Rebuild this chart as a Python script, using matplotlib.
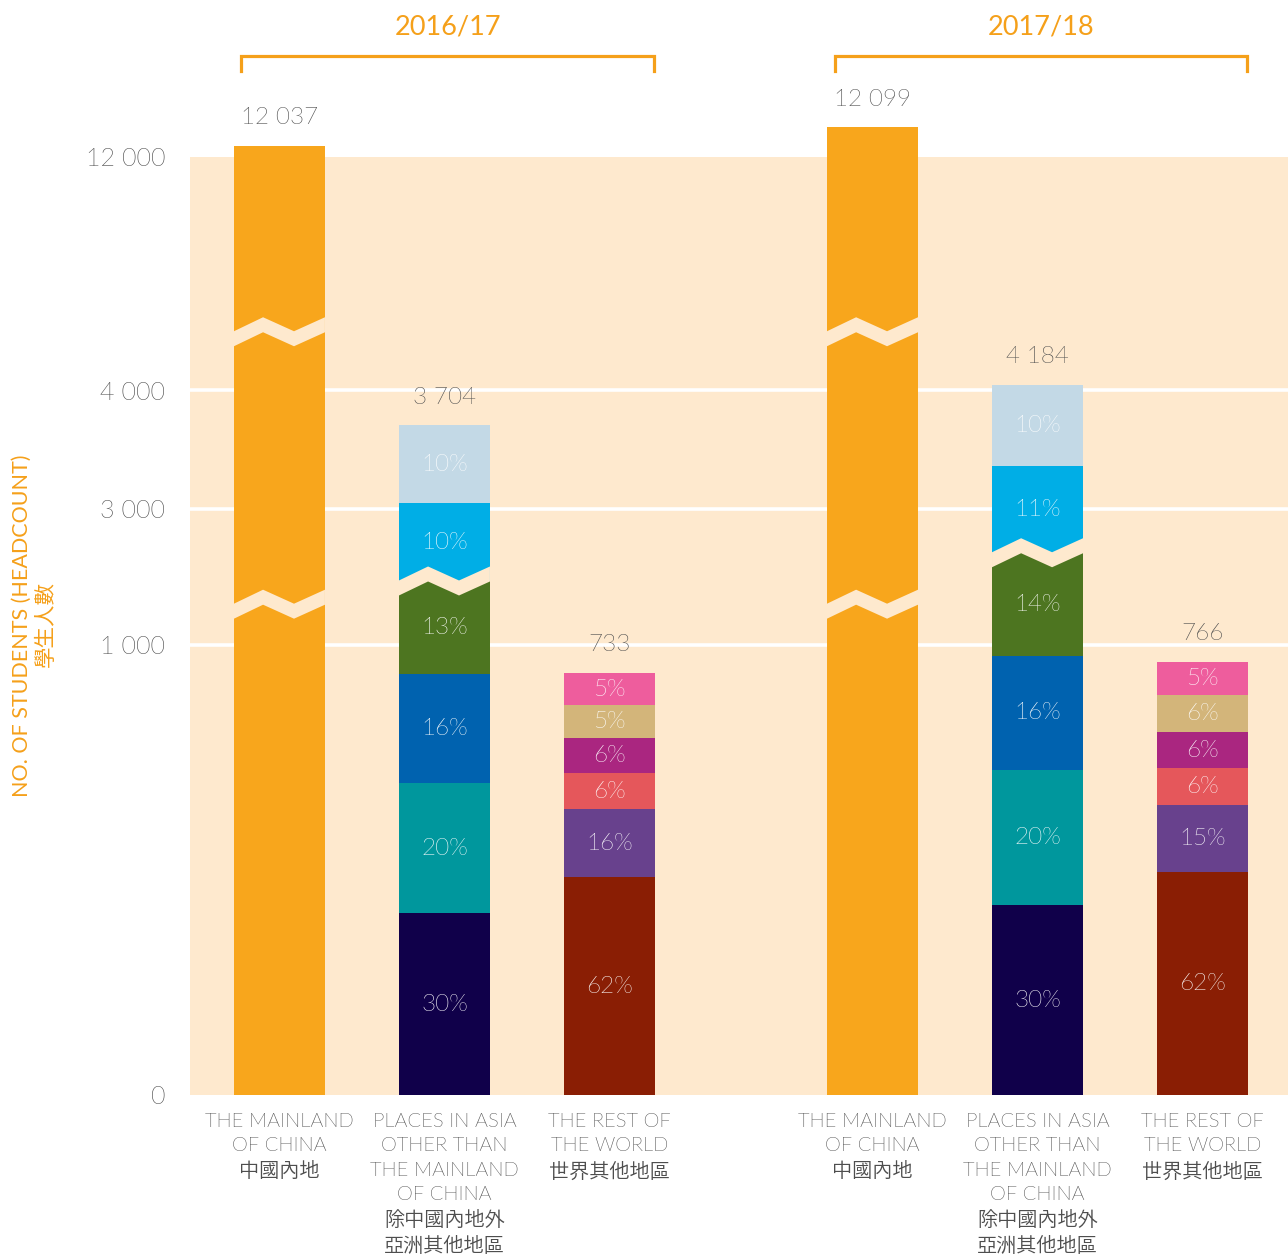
import os
import dataclasses
import numpy as np
import matplotlib
matplotlib.use("Agg")
import matplotlib.pyplot as plt
from matplotlib import font_manager as fm
from matplotlib.patches import Polygon
from matplotlib.transforms import IdentityTransform, blended_transform_factory

# ---------------- data ----------------
years = ["2016/17", "2017/18"]
mainland_totals = [12037, 12099]
asia_totals = [3704, 4184]
world_totals = [733, 766]
asia_pct = [[30, 20, 16, 13, 10, 10],
            [30, 20, 16, 14, 11, 10]]
world_pct = [[62, 16, 6, 6, 5, 5],
             [62, 15, 6, 6, 6, 5]]
y_ticks = [0, 1000, 3000, 4000, 12000]
category_labels = [
    "THE MAINLAND\nOF CHINA\n中國內地",
    "PLACES IN ASIA\nOTHER THAN\nTHE MAINLAND\nOF CHINA\n除中國內地外\n亞洲其他地區",
    "THE REST OF\nTHE WORLD\n世界其他地區",
]
y_label_en = "NO. OF STUDENTS (HEADCOUNT)"
y_label_zh = "學生人數"

# ---------------- style ----------------
BG = "#FEE9CE"
ORANGE = "#F8A61C"
TITLE_ORANGE = "#F5A01A"
GRAY = "#4E4E4E"
ASIA_COLORS = ["#10004A", "#00979D", "#0062AF", "#4D7520", "#00AEE6", "#C3D9E6"]
WORLD_COLORS = ["#8A1E04", "#68418D", "#E5575B", "#AA2680", "#D3B57A", "#EE5D9D"]


def find_light(match, alias, words):
    try:
        for w in words:
            for f in fm.fontManager.ttflist:
                base = os.path.basename(f.fname).lower()
                if match(f, base) and w in base and "italic" not in base:
                    if w == "light" and "demilight" in base and "demilight" in words:
                        continue
                    fm.fontManager.ttflist.append(
                        dataclasses.replace(f, name=alias, weight=400, style="normal"))
                    return alias
    except Exception:
        pass
    return None


LATIN = find_light(lambda f, b: "lato" in b, "Lato Light Local", ("light",)) or "Lato"
CJK = find_light(lambda f, b: "cjk" in b and ("tc" in b or f.name.endswith("TC")),
                 "CJK TC Light Local", ("demilight", "light")) or "Noto Sans CJK TC"
try:
    fm.FontManager._findfont_cached.cache_clear()
except Exception:
    pass
FONT = [LATIN, CJK, "Noto Sans CJK TC", "DejaVu Sans"]
FONT_REG = ["Lato", "Noto Sans CJK TC", "DejaVu Sans"]
plt.rcParams["font.family"] = FONT

# broken-axis display scale (value -> display units)
SCALE_VALUES = [0, 750, 1000, 3000, 4000, 12000, 12100]
SCALE_UNITS = [0, 432, 450, 586, 705, 938, 968]
SEG_PAD = 5          # minimum visual padding per stacked segment
BREAK_VALUES = [1600, 6000]
GROUP_GAP = 3.594
BAR_W = 0.5515


def fwd(v):
    return np.interp(v, SCALE_VALUES, SCALE_UNITS)


def inv(u):
    return np.interp(u, SCALE_UNITS, SCALE_VALUES)


fig = plt.figure(figsize=(12.88, 12.60), dpi=100)
ax = fig.add_axes([190 / 1288, 1 - 1095 / 1260, 1098 / 1288, 938 / 1260])
ax.set_facecolor(BG)
ax.set_yscale("function", functions=(fwd, inv))
ax.set_ylim(0, 12000)
ax.set_xlim(-0.542, 6.112)
ax.set_autoscale_on(False)
for s in ax.spines.values():
    s.set_visible(False)

ax.set_yticks(y_ticks, [f"{v:,}".replace(",", " ") for v in y_ticks])
ax.yaxis.set_minor_locator(matplotlib.ticker.NullLocator())
ax.tick_params(axis="y", length=0, pad=18, labelsize=18, labelcolor=GRAY)
ax.yaxis.grid(True, color="white", linewidth=2.6)
ax.set_axisbelow(True)
gl = ax.get_ygridlines()
gl[0].set_visible(False)
gl[-1].set_visible(False)

xs_all = []
labels_all = []


def value_label(x, total):
    ax.annotate(f"{total:,}".replace(",", " "), (x, total), xytext=(0, 28),
                textcoords="offset pixels", ha="center", va="center",
                fontsize=17.5, color=GRAY, annotation_clip=False)


def stacked(x, total, pcts, colors):
    w = np.array(pcts, dtype=float) + SEG_PAD
    cum = np.concatenate([[0], np.cumsum(w)]) / w.sum()
    ut = fwd(total)
    bounds = inv(ut * cum)
    bounds[-1] = total
    for i, (p, c) in enumerate(zip(pcts, colors)):
        ax.bar(x, bounds[i + 1] - bounds[i], bottom=bounds[i], width=BAR_W,
               color=c, zorder=3, clip_on=False)
        ymid = inv(ut * (cum[i] + cum[i + 1]) / 2)
        ax.text(x, ymid, f"{p}%", ha="center", va="center", fontsize=17.5,
                color="white", alpha=0.95, zorder=6)
    return bounds


def add_break(x, v):
    x0, y0 = ax.transData.transform((x - BAR_W / 2, v))
    x1, _ = ax.transData.transform((x + BAR_W / 2, v))
    px = x0 + (x1 - x0) * np.array([0, 0.32, 0.66, 1.0])
    mid = y0 + np.array([-7, 7, -7, 7])
    top = mid + 7.5
    bot = mid - 7.5
    verts = list(zip(px, top)) + list(zip(px[::-1], bot[::-1]))
    poly = Polygon(verts, closed=True, transform=IdentityTransform(),
                   facecolor=BG, edgecolor="none", zorder=5, clip_on=False)
    ax.add_artist(poly)


btrans = blended_transform_factory(ax.transData, ax.transAxes)

for g, yr in enumerate(years):
    base = g * GROUP_GAP
    # mainland
    xm = base
    ax.bar(xm, mainland_totals[g], width=BAR_W, color=ORANGE, zorder=3, clip_on=False)
    value_label(xm, mainland_totals[g])
    for bv in BREAK_VALUES:
        add_break(xm, bv)
    # asia
    xa = base + 1
    b = stacked(xa, asia_totals[g], asia_pct[g], ASIA_COLORS)
    value_label(xa, asia_totals[g])
    add_break(xa, b[4])
    # world
    xw = base + 2
    stacked(xw, world_totals[g], world_pct[g], WORLD_COLORS)
    value_label(xw, world_totals[g])

    xs_all += [xm, xa, xw]
    labels_all += category_labels

    # year title and bracket
    cx = base + 1.02
    ax.text(cx, (1095 - 27) / 938, yr, transform=btrans, ha="center", va="center",
            fontsize=19.5, color=TITLE_ORANGE, family=FONT_REG)
    yb = (1095 - 56) / 938
    yb2 = (1095 - 71) / 938
    ax.plot([cx - 1.25, cx - 1.25, cx + 1.25, cx + 1.25], [yb2, yb, yb, yb2],
            transform=btrans, color=TITLE_ORANGE, linewidth=2.3, clip_on=False,
            solid_joinstyle="miter")

ax.set_xticks(xs_all, labels_all)
ax.tick_params(axis="x", length=0, pad=13, labelsize=14.5, labelcolor=GRAY)
for t in ax.get_xticklabels():
    t.set_linespacing(1.46)

fig.text(22 / 1288, 1 - 626 / 1260, y_label_en, rotation=90, ha="center", va="center",
         fontsize=15.5, color=TITLE_ORANGE, family=FONT_REG)
fig.text(46 / 1288, 1 - 624 / 1260, y_label_zh, rotation=90, ha="center", va="center",
         fontsize=15.5, color=TITLE_ORANGE, family=FONT_REG)

fig.savefig("out.png", dpi=100, facecolor="white")
